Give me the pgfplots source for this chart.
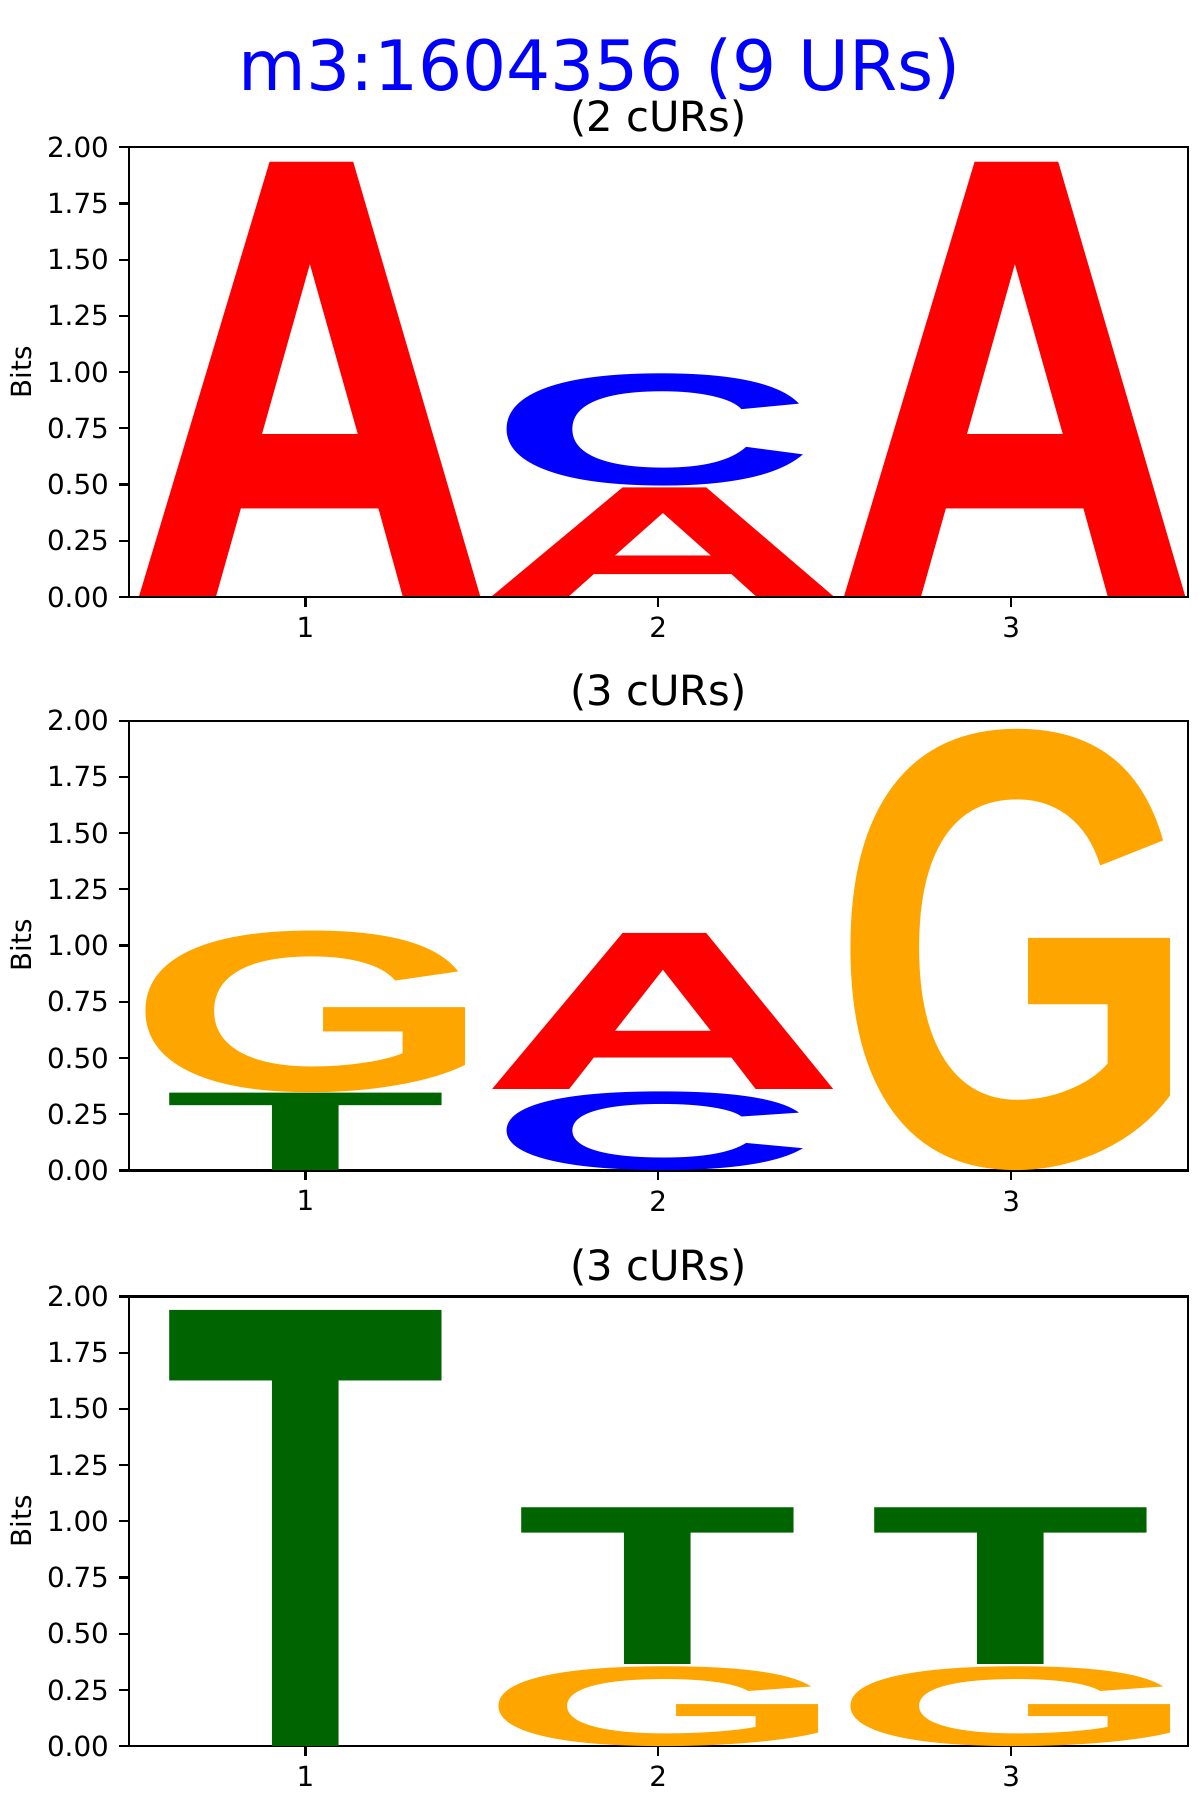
\documentclass[border=0pt]{standalone}
\usepackage{fontspec}
\setmainfont{DejaVu Sans}
\newfontfamily\lgfont{Liberation Sans}
\newfontfamily\lgfontA{TeX Gyre Heros}
\usepackage{graphicx}
\usepackage{pgfplots}
\pgfplotsset{compat=1.18}
\definecolor{lgred}{RGB}{255,0,0}
\definecolor{lgblue}{RGB}{0,0,255}
\definecolor{lgorange}{RGB}{255,165,0}
\definecolor{lggreen}{RGB}{0,100,0}
\XeTeXuseglyphmetrics=1
\newdimen\unitX \unitX=127.03pt
\newdimen\unitY \unitY=80.95pt
\newdimen\LW \newdimen\LH
\newcommand\tightglyph[1]{\kern-\XeTeXglyphbounds1 \XeTeXcharglyph`#1\relax #1\kern-\XeTeXglyphbounds3 \XeTeXcharglyph`#1\relax}
\newcommand\logoglyph[3]{\LW=\wv\unitX\relax\LH=\hv\unitY\relax\resizebox*{\LW}{\LH}{#3\bfseries\color{#2}\tightglyph{#1}}}
\pgfplotsset{
  logo/.style n args={4}{draw=none, mark=none, forget plot,
    visualization depends on={value \thisrow{h}\as\hv},
    visualization depends on={value \thisrow{w}\as\wv},
    nodes near coords={\logoglyph{#1}{#2}{#4}},
    every node near coord/.append style={anchor=south, inner sep=0pt, outer sep=0pt, xshift=#3},
  },
  logoaxis/.style={
    scale only axis, width=381.1pt, height=161.9pt,
    xmin=0.5, xmax=3.5, ymin=0, ymax=2,
    xtick={1,2,3},
    ytick={0,0.25,0.5,0.75,1,1.25,1.5,1.75,2},
    yticklabel style={/pgf/number format/.cd, fixed, fixed zerofill, precision=2},
    /pgf/number format/assume math mode=true,
    tick align=outside, xtick pos=bottom, ytick pos=left,
    major tick length=3.5pt,
    every tick/.style={black, line width=0.8pt},
    line width=0.8pt,
    ylabel={Bits},
    ylabel style={at={(axis description cs:-0.1016,0.5)}, anchor=center},
    every axis title/.style={at={(0.5,1)}, anchor=base, yshift=5.6pt, font=\fontsize{15}{18}\selectfont},
    tick label style={font=\fontsize{10}{12}\selectfont},
    label style={font=\fontsize{10}{12}\selectfont},
  }
}
\begin{document}
\begin{tikzpicture}
\path[use as bounding box] (0,0) rectangle (432pt,-648pt);
\node[anchor=base, text=lgblue, font=\fontsize{25}{30}\selectfont] at (216pt,-32.4pt) {m3:1604356 (9 URs)};

\begin{axis}[logoaxis, at={(46.44pt,-53.0pt)}, anchor=north west, title={(2 cURs)}]
\addplot[logo={A}{lgred}{1.6pt}{\lgfontA}] table[row sep=\\]{x y h w\\ 1 0 1.929 0.966\\ 2 0 0.483 0.966\\ 3 0 1.929 0.966\\};
\addplot[logo={C}{lgblue}{-1.1pt}{\lgfont}] table[row sep=\\]{x y h w\\ 2 0.493 0.499 0.839\\};
\end{axis}

\begin{axis}[logoaxis, at={(46.44pt,-259.45pt)}, anchor=north west, title={(3 cURs)}]
\addplot[logo={T}{lggreen}{0pt}{\lgfont}] table[row sep=\\]{x y h w\\ 1 0 0.344 0.771\\};
\addplot[logo={G}{lgorange}{0pt}{\lgfont}] table[row sep=\\]{x y h w\\ 1 0.347 0.719 0.905\\ 3 0 1.962 0.905\\};
\addplot[logo={C}{lgblue}{-1.1pt}{\lgfont}] table[row sep=\\]{x y h w\\ 2 0 0.350 0.839\\};
\addplot[logo={A}{lgred}{1.6pt}{\lgfontA}] table[row sep=\\]{x y h w\\ 2 0.360 0.694 0.966\\};
\end{axis}

\begin{axis}[logoaxis, at={(46.44pt,-466.7pt)}, anchor=north west, title={(3 cURs)}]
\addplot[logo={T}{lggreen}{0pt}{\lgfont}] table[row sep=\\]{x y h w\\ 1 0 1.938 0.771\\ 2 0.362 0.697 0.771\\ 3 0.362 0.697 0.771\\};
\addplot[logo={G}{lgorange}{0pt}{\lgfont}] table[row sep=\\]{x y h w\\ 2 0 0.355 0.905\\ 3 0 0.355 0.905\\};
\end{axis}
\end{tikzpicture}
\end{document}
